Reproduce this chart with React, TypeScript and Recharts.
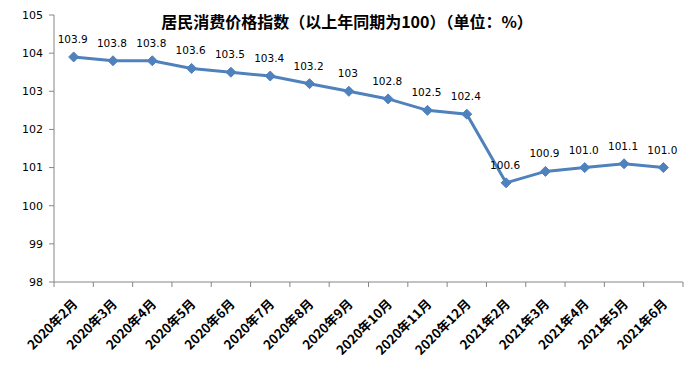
import { LineChart, Line, XAxis, YAxis, LabelList } from "recharts";

const months = [
  "2020年2月", "2020年3月", "2020年4月", "2020年5月", "2020年6月", "2020年7月",
  "2020年8月", "2020年9月", "2020年10月", "2020年11月", "2020年12月",
  "2021年2月", "2021年3月", "2021年4月", "2021年5月", "2021年6月",
];
const cpi = [
  103.9, 103.8, 103.8, 103.6, 103.5, 103.4, 103.2, 103, 102.8, 102.5, 102.4,
  100.6, 100.9, 101.0, 101.1, 101.0,
];
const cpiLabels = [
  "103.9", "103.8", "103.8", "103.6", "103.5", "103.4", "103.2", "103", "102.8",
  "102.5", "102.4", "100.6", "100.9", "101.0", "101.1", "101.0",
];
const yTicks = [98, 99, 100, 101, 102, 103, 104, 105];
const title = "居民消费价格指数（以上年同期为100）（单位：%）";

const data = months.map((m, i) => ({ month: m, value: cpi[i], label: cpiLabels[i] }));

const W = 694;
const H = 373;
const M = { top: 15, right: 11, bottom: 0, left: 0 };
const Y_W = 54;
// half a category band, used for the excel-style tick marks between categories
const HALF = (W - M.left - M.right - Y_W) / months.length / 2;

const LINE = "#4F81BD";
const AXIS = "#868686";
const FONT = "'DejaVu Sans', 'Noto Sans CJK SC', sans-serif";

function Diamond(props: any) {
  const { cx, cy } = props;
  if (cx == null || cy == null) return null;
  const r = 5;
  return (
    <polygon
      points={`${cx},${cy - r} ${cx + r},${cy} ${cx},${cy + r} ${cx - r},${cy}`}
      fill={LINE}
      stroke={LINE}
    />
  );
}

function MonthTick(props: any) {
  const { x, y, payload, index } = props;
  const last = (payload.index ?? index) === months.length - 1;
  const tx = x + 1;
  const ty = y + 19;
  return (
    <g>
      <line x1={x - HALF} y1={y} x2={x - HALF} y2={y + 5} stroke={AXIS} />
      {last && <line x1={x + HALF} y1={y} x2={x + HALF} y2={y + 5} stroke={AXIS} />}
      <text
        x={tx}
        y={ty}
        transform={`rotate(-45, ${tx}, ${ty})`}
        textAnchor="end"
        dominantBaseline="central"
        fontSize={13}
        fontWeight="bold"
        fontFamily="'Noto Sans CJK SC', sans-serif"
        fill="#000"
      >
        {payload.value}
      </text>
    </g>
  );
}

function PointLabel(props: any) {
  const { x, y, value } = props;
  return (
    <text x={x - 1} y={y - 14} textAnchor="middle" fontSize={10.5} fontFamily={FONT} fill="#000">
      {value}
    </text>
  );
}

export default function App() {
  return (
    <div style={{ position: "absolute", left: 0, top: 0, width: W, height: H, background: "#fff" }}>
      <div
        style={{
          position: "absolute",
          left: 0,
          width: W,
          top: 10,
          textAlign: "center",
          fontFamily: "'Noto Sans CJK SC', sans-serif",
          fontWeight: "bold",
          fontSize: 16,
          lineHeight: "22px",
          color: "#000",
        }}
      >
        {title}
      </div>
      <LineChart width={W} height={H} data={data} margin={M}>
        <XAxis
          dataKey="month"
          interval={0}
          padding={{ left: HALF, right: HALF }}
          stroke={AXIS}
          tickLine={false}
          tickSize={0}
          tickMargin={0}
          tick={<MonthTick />}
          height={91}
        />
        <YAxis
          domain={[98, 105]}
          ticks={yTicks}
          interval={0}
          width={Y_W}
          stroke={AXIS}
          tickSize={5}
          tickMargin={6}
          tick={{ fill: "#000", fontSize: 11, fontFamily: FONT }}
        />
        <Line
          dataKey="value"
          stroke={LINE}
          strokeWidth={3}
          dot={<Diamond />}
          activeDot={false}
          isAnimationActive={false}
        >
          <LabelList dataKey="label" content={<PointLabel />} />
        </Line>
      </LineChart>
    </div>
  );
}
